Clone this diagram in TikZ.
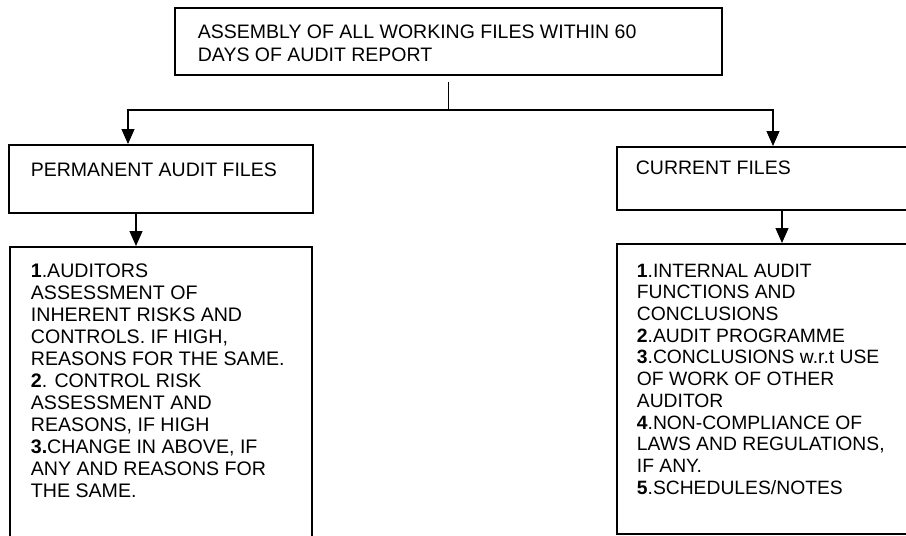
\documentclass[tikz,border=0pt]{standalone}
\usepackage{fontspec}
\setmainfont{Liberation Sans}
\usetikzlibrary{arrows.meta}
\newcommand{\bxt}[4]{\hspace*{#1}\parbox[c][#3][t]{#2}{\raggedright #4}}
\begin{document}
\begin{tikzpicture}[x=1pt,y=-1pt,
  boxnode/.style={draw,line width=1.8pt,anchor=north west,inner xsep=0pt},
  conn/.style={line width=1.2pt},
  arr/.style={conn,-{Triangle[width=13pt,length=15pt]}}]
\useasboundingbox (0,0) rectangle (906,536);
\node[boxnode,inner ysep=17pt,font=\fontsize{19.5}{22.7}\selectfont] (top) at (174,7)
  {\bxt{23pt}{524pt}{33pt}{ASSEMBLY OF ALL WORKING FILES WITHIN 60\\DAYS OF AUDIT REPORT}};
\node[boxnode,inner ysep=18pt,font=\fontsize{19.5}{22}\selectfont] (pa) at (8,144)
  {\bxt{22pt}{282pt}{32pt}{PERMANENT AUDIT FILES}};
\node[boxnode,inner ysep=17pt,font=\fontsize{19.6}{22}\selectfont] (pb) at (9,246)
  {\bxt{21pt}{281pt}{280pt}{\textbf{1}.AUDITORS\\ASSESSMENT OF\\INHERENT RISKS AND\\CONTROLS. IF HIGH,\\REASONS FOR THE SAME.\\\textbf{2}. CONTROL RISK\\ASSESSMENT AND\\REASONS, IF HIGH\\\textbf{3.}CHANGE IN ABOVE, IF\\ANY AND REASONS FOR\\THE SAME.}};
\node[boxnode,inner ysep=14pt,font=\fontsize{19.5}{21.7}\selectfont] (pc) at (616,146)
  {\bxt{19pt}{291pt}{35pt}{CURRENT FILES}};
\node[boxnode,inner ysep=20pt,font=\fontsize{19.3}{21.7}\selectfont] (pd) at (616,243)
  {\bxt{20pt}{290pt}{250pt}{\textbf{1}.INTERNAL AUDIT\\FUNCTIONS AND\\CONCLUSIONS\\\textbf{2}.AUDIT PROGRAMME\\\textbf{3}.CONCLUSIONS w.r.t USE\\OF WORK OF OTHER\\AUDITOR\\\textbf{4}.NON-COMPLIANCE OF\\LAWS AND REGULATIONS,\\IF ANY.\\\textbf{5}.SCHEDULES/NOTES}};
\coordinate (jl) at (128,110);
\coordinate (jr) at (773,110);
\coordinate (al) at (136,0);
\coordinate (ar) at (782,0);
\draw[conn] ([yshift=-6pt]top.south) -- (top.south |- jl);
\draw[arr] (top.south |- jl) -- (jl) -- (jl |- pa.north);
\draw[arr] (top.south |- jr) -- (jr) -- (jr |- pc.north);
\draw[arr] (al |- pa.south) -- (al |- pb.north);
\draw[arr] (ar |- pc.south) -- (ar |- pd.north);
\end{tikzpicture}
\end{document}
